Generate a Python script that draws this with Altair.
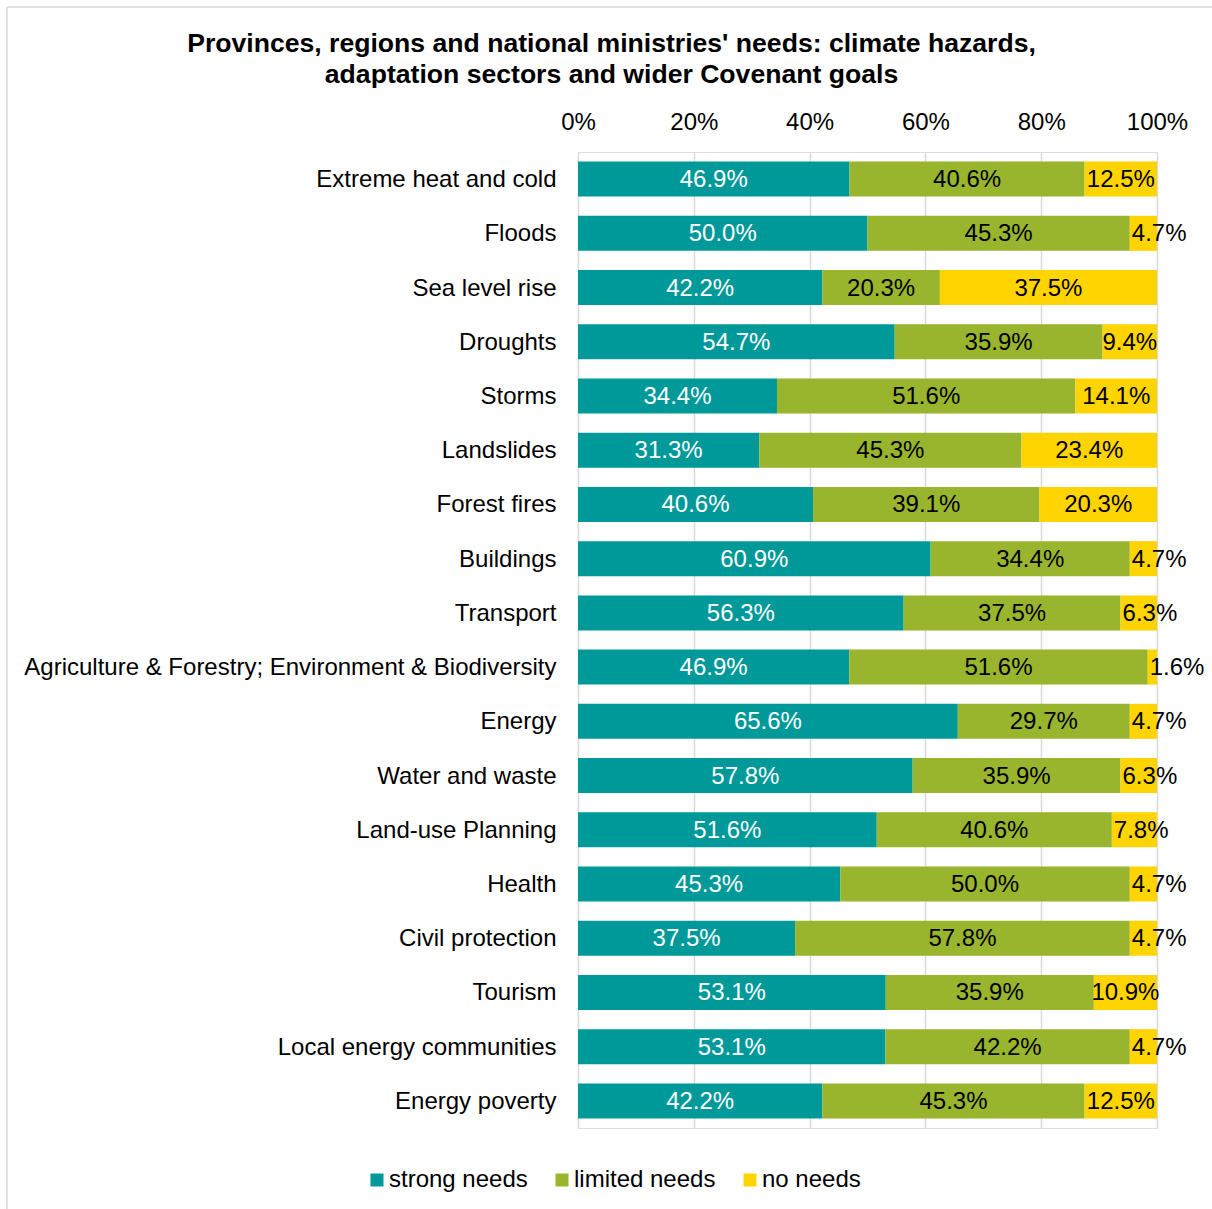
import altair as alt
import pandas as pd

categories = [
    "Extreme heat and cold", "Floods", "Sea level rise", "Droughts", "Storms",
    "Landslides", "Forest fires", "Buildings", "Transport",
    "Agriculture & Forestry; Environment & Biodiversity", "Energy",
    "Water and waste", "Land-use Planning", "Health", "Civil protection",
    "Tourism", "Local energy communities", "Energy poverty",
]
strong = [46.9, 50.0, 42.2, 54.7, 34.4, 31.3, 40.6, 60.9, 56.3, 46.9, 65.6, 57.8, 51.6, 45.3, 37.5, 53.1, 53.1, 42.2]
limited = [40.6, 45.3, 20.3, 35.9, 51.6, 45.3, 39.1, 34.4, 37.5, 51.6, 29.7, 35.9, 40.6, 50.0, 57.8, 35.9, 42.2, 45.3]
no_needs = [12.5, 4.7, 37.5, 9.4, 14.1, 23.4, 20.3, 4.7, 6.3, 1.6, 4.7, 6.3, 7.8, 4.7, 4.7, 10.9, 4.7, 12.5]

series_names = ["strong needs", "limited needs", "no needs"]
series_colors = ["#009999", "#99B42D", "#FFD400"]
label_colors = ["#FFFFFF", "#000000", "#000000"]
title_lines = ["Provinces, regions and national ministries' needs: climate hazards,",
               "adaptation sectors and wider Covenant goals"]
tick_values = [0, 0.2, 0.4, 0.6, 0.8, 1.0]

rows = []
for i, cat in enumerate(categories):
    vals = [strong[i], limited[i], no_needs[i]]
    total = sum(vals)
    cum = 0.0
    for j, v in enumerate(vals):
        start = cum / total
        end = (cum + v) / total
        cum += v
        fits = v >= 9.0
        rows.append({
            "category": cat,
            "series": series_names[j],
            "order": j,
            "start": start,
            "end": end,
            "lx": (start + end) / 2 if fits else start,
            "fits": fits,
            "label": f"{v:.1f}%",
            "tcolor": label_colors[j],
        })
df = pd.DataFrame(rows)

FONT = "Liberation Sans"
W, H = 579, 976

base = alt.Chart(df)
y_enc = alt.Y("category:N", sort=categories,
              scale=alt.Scale(paddingInner=0.354, paddingOuter=0.177),
              axis=alt.Axis(title=None, labelFontSize=24, labelFont=FONT, labelColor="#000000",
                            labelPadding=22, labelOffset=1, ticks=False, domain=False, labelLimit=0))

bars = base.mark_bar().encode(
    x=alt.X("start:Q", scale=alt.Scale(domain=[0, 1], nice=False),
            axis=alt.Axis(orient="top", format=".0%", values=tick_values, title=None,
                          labelFontSize=24, labelFont=FONT, labelColor="#000000",
                          labelFlush=False,
                          ticks=False, domain=False, grid=True, gridColor="#D9D9D9",
                          gridWidth=1.5, labelPadding=18)),
    x2="end:Q",
    y=y_enc,
    color=alt.Color("series:N", scale=alt.Scale(domain=series_names, range=series_colors),
                    legend=alt.Legend(title=None, orient="none", legendX=-213, legendY=1016,
                                      direction="horizontal", columns=3, symbolType="square",
                                      symbolSize=169, symbolStrokeWidth=0, labelFontSize=24,
                                      labelFont=FONT, labelColor="#000000", labelOffset=0,
                                      columnPadding=22, padding=0, labelLimit=0)),
    order=alt.Order("order:Q"),
)

text_center = base.transform_filter("datum.fits").mark_text(
    align="center", baseline="middle", fontSize=24, font=FONT, dy=1
).encode(x="lx:Q", y=alt.Y("category:N", sort=categories), text="label:N",
         color=alt.Color("tcolor:N", scale=None))

text_left = base.transform_filter("!datum.fits").mark_text(
    align="left", baseline="middle", fontSize=24, font=FONT, dx=2, dy=1
).encode(x="lx:Q", y=alt.Y("category:N", sort=categories), text="label:N",
         color=alt.Color("tcolor:N", scale=None))

frame_top = alt.Chart(pd.DataFrame({"a": [0]})).mark_rule(color="#D9D9D9", strokeWidth=1.5, clip=False).encode(
    x=alt.value(-571), x2=alt.value(634), y=alt.value(-145))
frame_left = alt.Chart(pd.DataFrame({"a": [0]})).mark_rule(color="#D9D9D9", strokeWidth=1.5, clip=False).encode(
    x=alt.value(-571), y=alt.value(-145), y2=alt.value(1057))

chart = alt.layer(bars, text_center, text_left, frame_top, frame_left).properties(
    width=W, height=H,
    title=alt.TitleParams(text=title_lines, fontSize=26.6, font=FONT, fontWeight="bold",
                          color="#000000", anchor="middle", frame="group", dx=-256,
                          lineHeight=31, offset=20, dy=102),
    autosize=alt.AutoSizeParams(type="none"),
    padding={"left": 578, "top": 152, "right": 55, "bottom": 81},
).configure_view(stroke=None).configure(background="white")

chart.save("out.html", embed_options={"renderer": "svg", "actions": False})
